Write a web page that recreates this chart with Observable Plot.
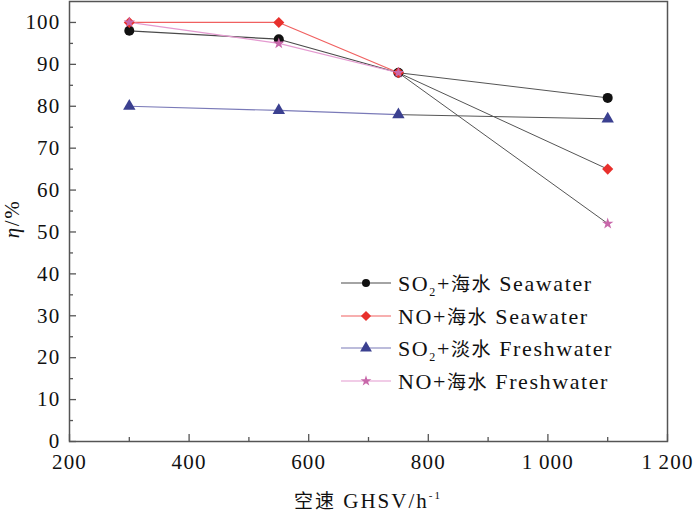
<!DOCTYPE html>
<html>
<head>
<meta charset="utf-8">
<script src="https://cdn.jsdelivr.net/npm/d3@7"></script>
<script src="https://cdn.jsdelivr.net/npm/@observablehq/plot@0.6"></script>
<style>
  html, body { margin: 0; padding: 0; background: #fff; }
  #chart { width: 700px; height: 513px; position: relative; }
</style>
</head>
<body>
<div id="chart"></div>
<script>
// ---- data ----
const ghsv = [300, 550, 750, 1100];
const so2Seawater = [98, 96, 88, 82];
const noSeawater = [100, 100, 88, 65];
const so2Freshwater = [80, 79, 78, 77];
const noFreshwater = [100, 95, 88, 52];
const seriesNames = ["SO2+海水 Seawater", "NO+海水 Seawater", "SO2+淡水 Freshwater", "NO+海水 Freshwater"];
const xTicks = [200, 400, 600, 800, 1000, 1200];
const xTickLabels = ["200", "400", "600", "800", "1\u2009000", "1\u2009200"];
const yTicks = [0, 10, 20, 30, 40, 50, 60, 70, 80, 90, 100];

const seriesValues = [so2Seawater, noSeawater, so2Freshwater, noFreshwater];
const lineColors = ["#4a4a4a", "#f06060", "#7a7ab8", "#e49ad0"];
const markColors = ["#111111", "#e8302c", "#3b4090", "#c868aa"];
const symbols = ["circle", "diamond2", "triangle", "star"];
const symbolR = [5, 5, 4.6, 3.6];

const rows = [];
seriesValues.forEach((vals, s) => {
  vals.forEach((v, i) => rows.push({series: s, x: ghsv[i], y: v, i}));
});
const headRows = rows.filter(d => d.i <= 2);
const tailRows = rows.filter(d => d.i >= 2);

const serif = "'Liberation Serif', 'Times New Roman', serif";
const cjk = "'Noto Sans CJK SC', sans-serif";
const minorX = d3.range(300, 1200, 200);
const minorY = d3.range(5, 105, 10);

const plot = Plot.plot({
  width: 700,
  height: 513,
  marginLeft: 69,
  marginRight: 33,
  marginTop: 1,
  marginBottom: 72,
  style: {fontFamily: serif, fontSize: "20px", color: "#111", background: "#fff"},
  x: {domain: [200, 1200], label: null},
  y: {domain: [0, 105], label: null},
  marks: [
    Plot.line(tailRows, {x: "x", y: "y", z: "series", stroke: "#555", strokeWidth: 1}),
    Plot.line(headRows, {x: "x", y: "y", z: "series", stroke: d => lineColors[d.series], strokeWidth: 1.2}),
    ...[0, 1, 2, 3].map(s =>
      Plot.dot(rows.filter(d => d.series === s), {
        x: "x", y: "y", symbol: () => symbols[s], r: symbolR[s],
        fill: markColors[s], stroke: "none"
      })
    ),
    Plot.frame({stroke: "#555", strokeWidth: 1.5}),
    // inward major & minor ticks
    Plot.axisX({ticks: xTicks, tickSize: -7, tickFormat: () => "", label: null, stroke: "#555", strokeWidth: 1.3}),
    Plot.axisX({ticks: minorX, tickSize: -4, tickFormat: () => "", label: null, stroke: "#555", strokeWidth: 1.3}),
    Plot.axisY({ticks: yTicks, tickSize: -7, tickFormat: () => "", label: null, stroke: "#555", strokeWidth: 1.3}),
    Plot.axisY({ticks: minorY, tickSize: -4, tickFormat: () => "", label: null, stroke: "#555", strokeWidth: 1.3}),
    // tick labels
    Plot.axisX({ticks: xTicks, tickSize: 0, tickPadding: 13, tickFormat: d => xTickLabels[xTicks.indexOf(d)],
      fontSize: 21, fill: "#111", label: null}),
    Plot.axisY({ticks: yTicks, tickSize: 0, tickPadding: 9, fontSize: 21, fill: "#111", label: null})
  ]
});

document.getElementById("chart").appendChild(plot);
const svg = d3.select(plot);
svg.selectAll("text").style("font-family", serif).style("letter-spacing", "1.2px");

// ---- axis titles ----
svg.append("text")
  .attr("transform", "translate(14,219) rotate(-90)")
  .attr("text-anchor", "middle")
  .attr("dominant-baseline", "middle")
  .style("font-family", serif).style("font-size", "21px").style("letter-spacing", "1.5px").attr("fill", "#111")
  .html('<tspan font-style="italic">η</tspan>/%');

const xl = svg.append("text")
  .attr("x", 368).attr("y", 508)
  .attr("text-anchor", "middle")
  .style("font-family", serif).style("font-size", "21px").style("letter-spacing", "2px").attr("fill", "#111");
xl.append("tspan").style("font-family", cjk).style("font-size", "19px").text("空速");
xl.append("tspan").text(" GHSV/h");
xl.append("tspan").attr("dy", -9).style("font-size", "11px").text("-1");

// ---- legend ----
const symMap = {circle: d3.symbolCircle, diamond2: d3.symbolDiamond2, triangle: d3.symbolTriangle, star: d3.symbolStar};
const legendY = [283, 316, 348, 381];
const legendR = [4, 4.6, 4.4, 3.4];
const legendParts = [
  ["SO", "2", "+", "海水", " Seawater"],
  ["NO", "", "+", "海水", " Seawater"],
  ["SO", "2", "+", "淡水", " Freshwater"],
  ["NO", "", "+", "海水", " Freshwater"]
];
legendY.forEach((ly, s) => {
  const g = svg.append("g").attr("aria-label", "legend " + seriesNames[s]);
  g.append("line").attr("x1", 341).attr("x2", 391).attr("y1", ly).attr("y2", ly)
    .attr("stroke", lineColors[s]).attr("stroke-width", 1.2);
  const r = legendR[s];
  g.append("path").attr("transform", `translate(366,${ly})`)
    .attr("d", d3.symbol(symMap[symbols[s]], Math.PI * r * r)())
    .attr("fill", markColors[s]);
  const p = legendParts[s];
  const t = g.append("text").attr("x", 398).attr("y", ly).attr("dy", "0.35em")
    .attr("text-anchor", "start")
    .style("font-family", serif).style("font-size", "22px").style("letter-spacing", "1.6px").attr("fill", "#111");
  t.append("tspan").text(p[0]);
  if (p[1]) t.append("tspan").attr("dy", 5).style("font-size", "12px").text(p[1]);
  t.append("tspan").attr("dy", p[1] ? -5 : 0).text(p[2]);
  t.append("tspan").style("font-family", cjk).style("font-size", "19px").text(p[3]);
  t.append("tspan").text(p[4]);
});
</script>
</body>
</html>
